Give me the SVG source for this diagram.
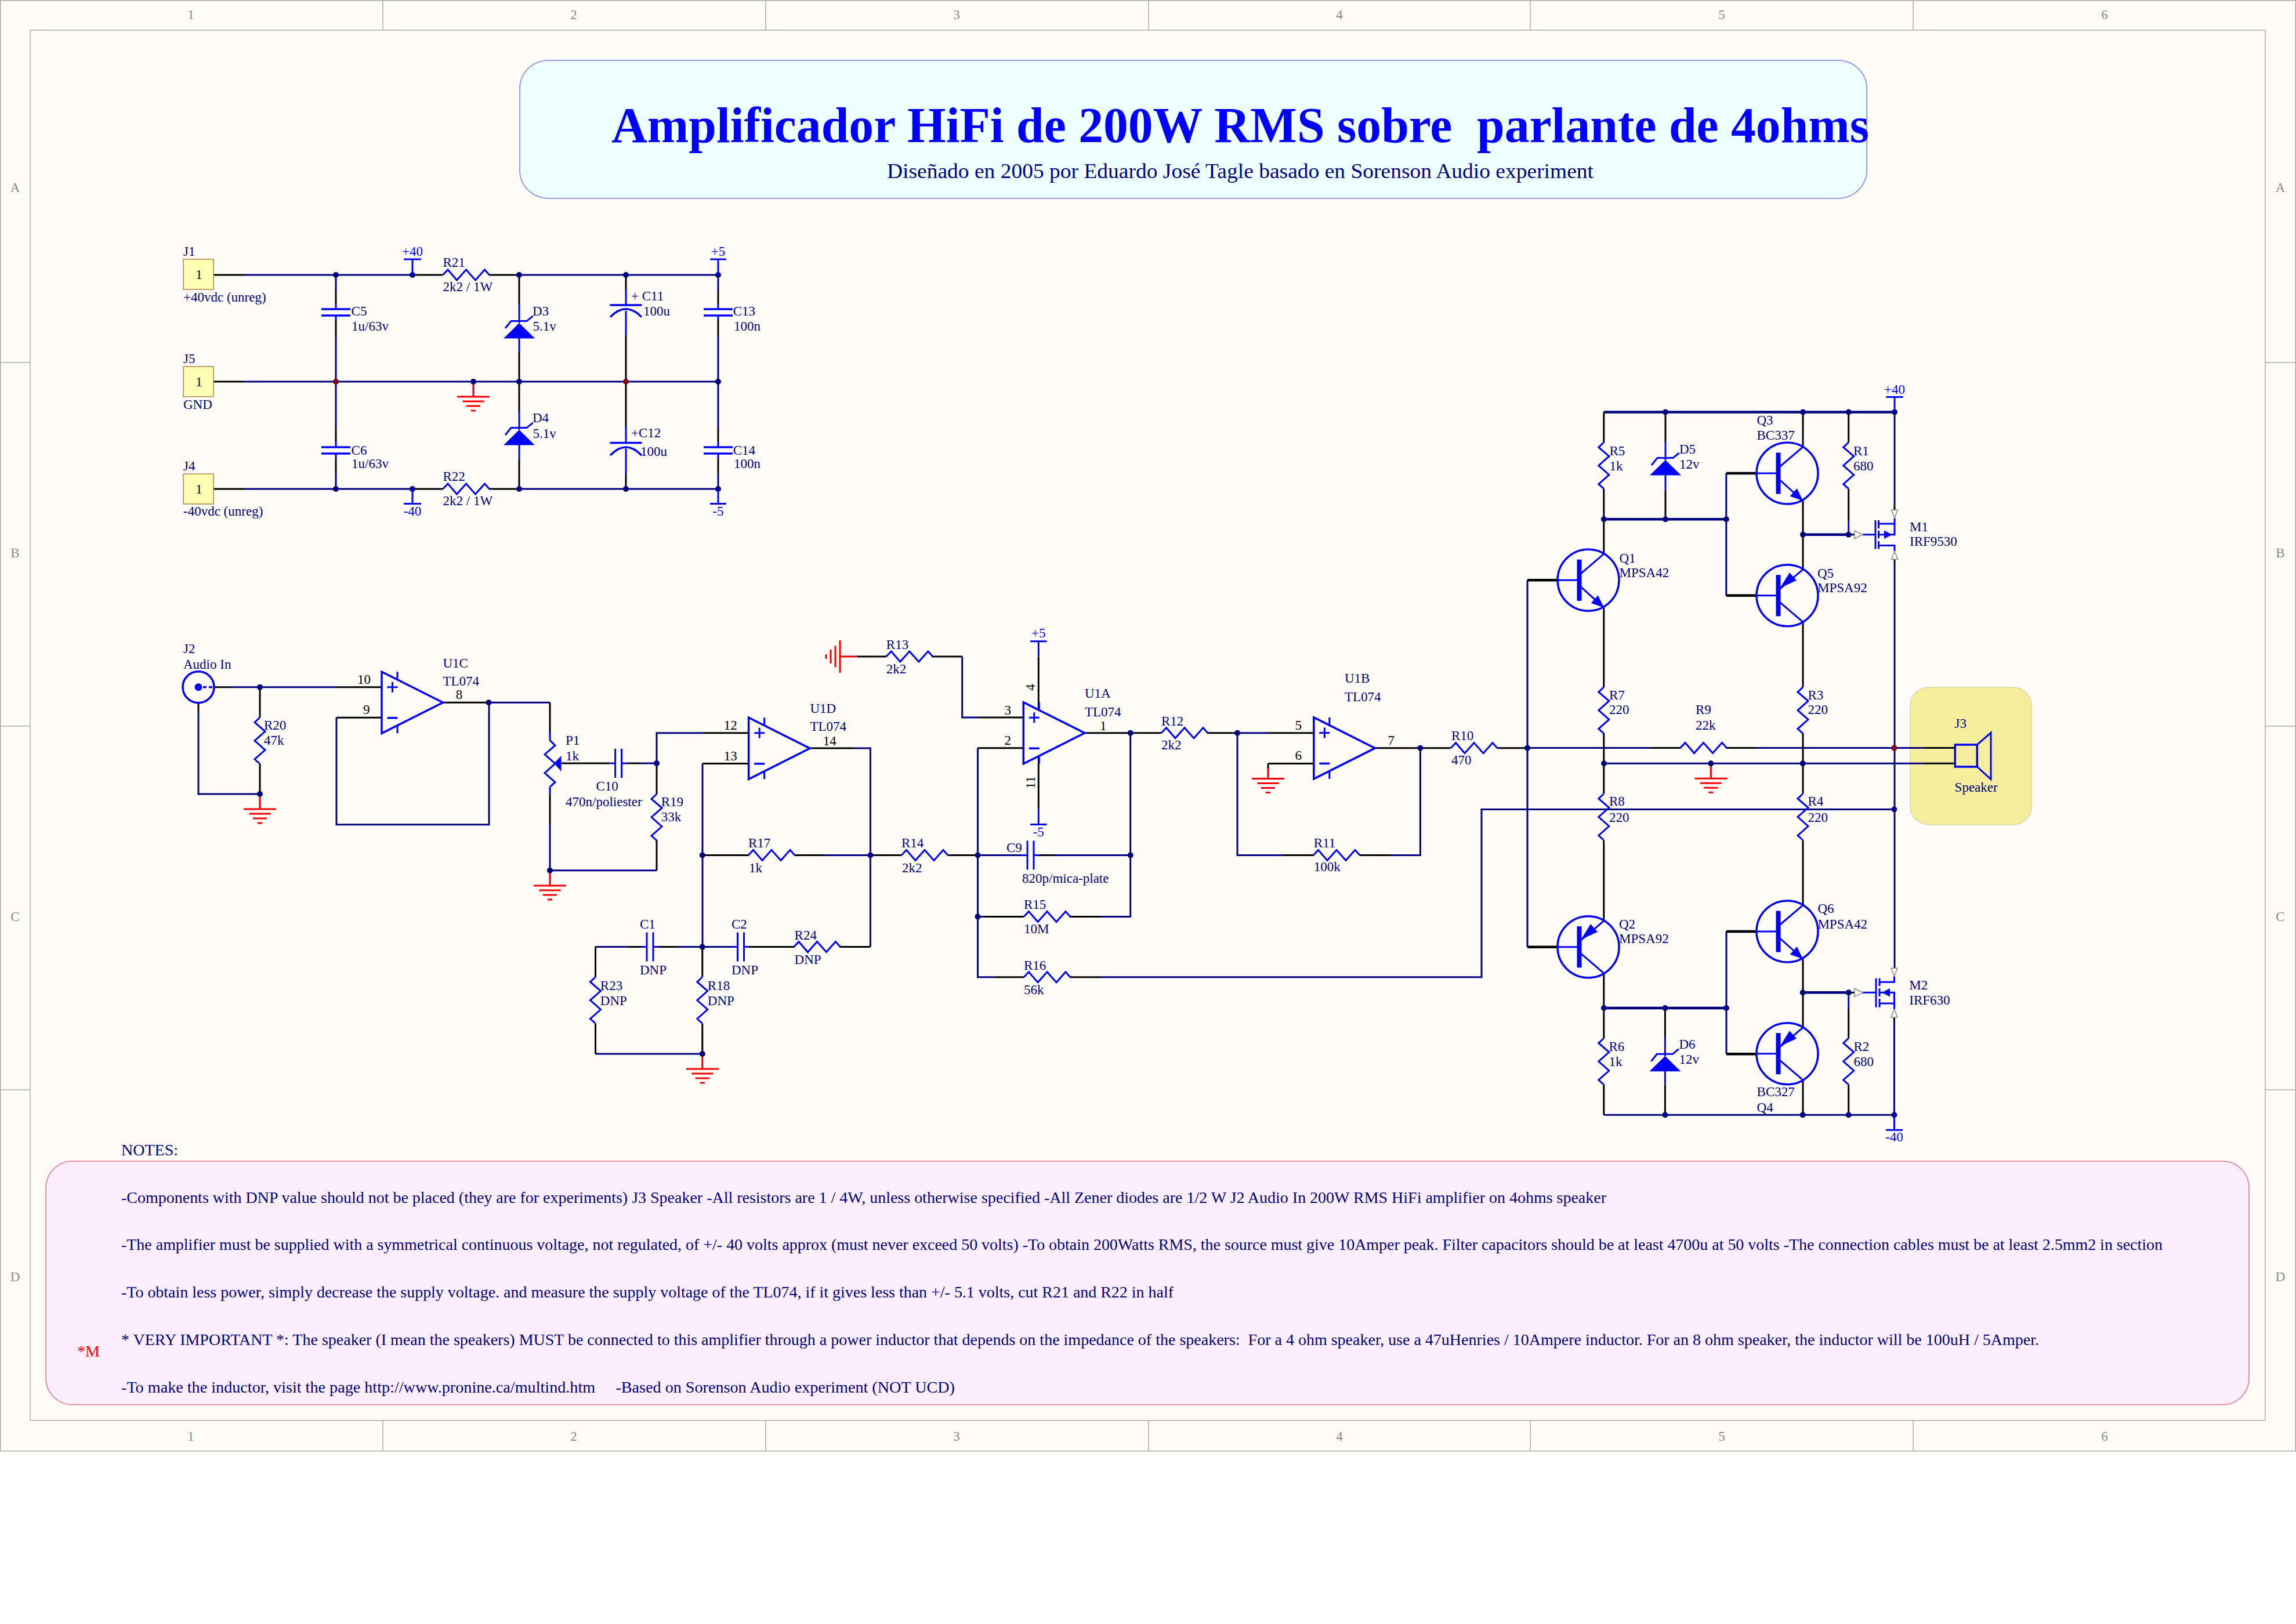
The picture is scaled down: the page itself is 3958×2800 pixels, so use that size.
<svg xmlns="http://www.w3.org/2000/svg" width="3958" height="2800" viewBox="0 0 3958 2800">
<style>
text{font-family:"Liberation Serif","Times New Roman",serif;font-size:23px;fill:#000080;white-space:pre}
.k{fill:#000}.pw{fill:#0000ff}.bd{fill:#888}.n{font-size:28px}
.w,.p,.c,.g,.f{fill:none;stroke-linecap:butt;stroke-linejoin:miter}
.w{stroke:#000080;stroke-width:3}.wt{stroke:#000080;stroke-width:4.5;fill:none}
.p{stroke:#000;stroke-width:3}.pt{stroke:#000;stroke-width:4.5;fill:none}
.c{stroke:#0000ff;stroke-width:3}.cb{stroke:#0000ff;stroke-width:3.5;fill:none}
.s{fill:#0000ff;stroke:none}
.g{stroke:#ff0000;stroke-width:3}.ge{stroke:#e00000;stroke-width:3;fill:none}
.j{fill:#000080}.jr{fill:#800020}
.h{fill:#fff;stroke:#888;stroke-width:1.5}
.br{stroke:#aaa;stroke-width:1.5;fill:none}
.conn{fill:#ffffb4;stroke:#b08050;stroke-width:1.5}
</style>
<defs>
<path id="rh" d="M0 0L8.5-9L24 9L40-9L56 9L72-9L80 0"/>
<path id="rv" d="M0 0L-9 8.5L9 24L-9 40L9 56L-9 72L0 80"/>
<path id="gnd" d="M-28 0H28M-18.5 8H18.5M-12 16H12M-4 24H4"/>
<path id="capv" d="M0-25V25M11-25V25"/>
<path id="caph" d="M-25 0H25M-25 11H25"/>
<g id="zen"><path class="s" d="M0 0L-27 26.5H27Z"/><path class="c" d="M-24 9L-14-3.4H13L23.5-12"/></g>
<g id="amp"><path class="cb" d="M0-53L105.5 0L0 53Z"/><path class="c" d="M27-53V-39M27 53V39M9.5-26.5H27.5M18.5-35.5V-17.5"/><path class="cb" d="M9.5 26.5H27.5"/></g>
<g id="npn"><circle r="53" class="cb"/><path class="s" d="M-19.5-35.6H-11.5V35.6H-19.5Z"/><path class="c" d="M-53 0H-15M-14.5-10L27-45.4M-14.5 10L27 47.5"/><path class="s" d="M27 47.5L4.7 39.5L16.7 26.1Z"/></g>
<g id="pnp"><circle r="53" class="cb"/><path class="s" d="M-19.5-35.6H-11.5V35.6H-19.5Z"/><path class="c" d="M-53 0H-15M-14.5-10L27-45M-14.5 10L27 45.5"/><path class="s" d="M-12.5-13L16-26L4-39.5Z"/></g>
</defs>
<rect width="3958" height="2800" fill="#fff"/>
<g id="frame">
<rect x="0.75" y="0.75" width="3956.5" height="2501" fill="#fffcf8" stroke="#aaa" stroke-width="1.5"/>
<rect x="52" y="52" width="3853" height="2397" class="br"/>
<path class="br" d="M660 0V52M1320 0V52M1980 0V52M2638 0V52M3298 0V52M660 2449V2502M1320 2449V2502M1980 2449V2502M2638 2449V2502M3298 2449V2502M0 625H52M0 1252H52M0 1879H52M3905 625H3958M3905 1252H3958M3905 1879H3958"/>
<g class="bl" text-anchor="middle">
<text class="bd" x="329" y="33">1</text><text class="bd" x="989" y="33">2</text><text class="bd" x="1649" y="33">3</text><text class="bd" x="2309" y="33">4</text><text class="bd" x="2968" y="33">5</text><text class="bd" x="3628" y="33">6</text>
<text class="bd" x="329" y="2484">1</text><text class="bd" x="989" y="2484">2</text><text class="bd" x="1649" y="2484">3</text><text class="bd" x="2309" y="2484">4</text><text class="bd" x="2968" y="2484">5</text><text class="bd" x="3628" y="2484">6</text>
<text class="bd" x="26" y="331">A</text><text class="bd" x="26" y="961">B</text><text class="bd" x="26" y="1588">C</text><text class="bd" x="26" y="2209">D</text>
<text class="bd" x="3931" y="331">A</text><text class="bd" x="3931" y="961">B</text><text class="bd" x="3931" y="1588">C</text><text class="bd" x="3931" y="2209">D</text>
</g>
</g>
<g id="title-block">
<rect x="896" y="104" width="2322" height="238" rx="50" ry="48" fill="#eeffff" stroke="#9999ee" stroke-width="2"/>
<text x="1054" y="245" font-size="86" font-weight="bold" style="font-size:86px;fill:#0000ff" textLength="2168" lengthAdjust="spacingAndGlyphs">Amplificador HiFi de 200W RMS sobre  parlante de 4ohms</text>
<text x="1529" y="307" style="font-size:36px" textLength="1218" lengthAdjust="spacingAndGlyphs">Diseñado en 2005 por Eduardo José Tagle basado en Sorenson Audio experiment</text>
</g>
<g id="notes">
<text class="n" x="209" y="1992">NOTES:</text>
<rect x="79" y="2002" width="3798" height="420" rx="46" ry="46" fill="#fceeff" stroke="#e87080" stroke-width="1.5"/>
<text class="n" x="209" y="2074" textLength="2560" lengthAdjust="spacingAndGlyphs">-Components with DNP value should not be placed (they are for experiments) J3 Speaker -All resistors are 1 / 4W, unless otherwise specified -All Zener diodes are 1/2 W J2 Audio In 200W RMS HiFi amplifier on 4ohms speaker</text>
<text class="n" x="209" y="2155" textLength="3519" lengthAdjust="spacingAndGlyphs">-The amplifier must be supplied with a symmetrical continuous voltage, not regulated, of +/- 40 volts approx (must never exceed 50 volts) -To obtain 200Watts RMS, the source must give 10Amper peak. Filter capacitors should be at least 4700u at 50 volts -The connection cables must be at least 2.5mm2 in section</text>
<text class="n" x="209" y="2237" textLength="1814" lengthAdjust="spacingAndGlyphs">-To obtain less power, simply decrease the supply voltage. and measure the supply voltage of the TL074, if it gives less than +/- 5.1 volts, cut R21 and R22 in half</text>
<text class="n" x="209" y="2319" textLength="3306" lengthAdjust="spacingAndGlyphs">* VERY IMPORTANT *: The speaker (I mean the speakers) MUST be connected to this amplifier through a power inductor that depends on the impedance of the speakers:  For a 4 ohm speaker, use a 47uHenries / 10Ampere inductor. For an 8 ohm speaker, the inductor will be 100uH / 5Amper.</text>
<text class="n" x="209" y="2401" textLength="1437" lengthAdjust="spacingAndGlyphs">-To make the inductor, visit the page http://www.pronine.ca/multind.htm     -Based on Sorenson Audio experiment (NOT UCD)</text>
<text x="133" y="2339" style="font-size:28px;fill:#ff0000">*M</text>
</g>
<rect id="J3-panel" x="3293" y="1185" width="209" height="237" rx="32" fill="#f5ee9c" stroke="#d8d8a0" stroke-width="1.5"/>
<g id="connectors">
<path class="w" d="M422 474H711M895 474H1238M420 658H1238M422 843H711M895 843H1238
M579 474V501M579 580V738M579 817V843M1238 474V501M1238 580V738M1238 817V843
M342 1226V1369H448M397 1184.7H580M580 1237.3V1421.7H843V1211.3M842.5 1211.3H948
M1106 1316H1132M1132 1316V1263.8H1214M948 1420V1500.7H1132
M1211 1316.5V1632.6M1473 1290H1500.4V1632.6M1422 1474.5H1500.4
M1685.5 1289.7V1684.8H1713.8M1685.5 1474.5H1760M1818 1474.5H1948.7M1685.5 1580.4H1698M1897 1580.4H1948.7V1263.8
M1897 1684.8H2554V1395.5H3265.4
M1026.5 1632.6H1080.7M1170 1632.6H1262M1026.5 1684V1632.6M1026.5 1817H1210.8
M1658.7 1132V1237H1687M2133 1263.8V1474.5H2211M2133 1263.8H2188M2397 1474.5H2448.4V1289.7
M2633 1000.3V1632.7M2633 1289.6H2845M3027 1289.6H3316.8M2765 1316.3H3316.8
M3266 710.5V871.4M3266 970V1669M3265.4 1760V1922.3H2764.8"/>
<path class="wt" d="M2764.8 710.5H3266M2764.8 895.2H2975.8M3108 921.7H3186.7M2764.8 1738H2976M3107.7 1711.3H3186.7"/>
<path class="w" d="M2975.8 816V1026.8M2976 1606V1817.3"/>
<path class="p" d="M368 474H422M711 474H763.5M843 474H895M368 658H420M368 843H422M711 843H763.5M843 843H895
M579 501V524M579 552V580M579 738V762M579 790V817M1238 501V524M1238 552V580M1238 738V762M1238 790V817
M895 474V524M895 606V710M895 792V843M1079 474V499M1079 578V736M1079 818V843
M369 1184.7H397M580 1184.7H658M342 1211.7V1226M448 1185V1237M448 1317V1369M580 1237.3H658M763.4 1211.3H842.5
M948 1211.3V1263M948 1370V1420M967.5 1316H1051.7M1080 1316H1106M1132 1316V1369M1132 1448V1500.7
M1214 1263.8H1290.6M1211 1316.5H1290.6M1396.4 1290H1473M1211 1474.5H1291M1369.6 1474.5H1422
M1500.4 1474.5H1554M1633.7 1474.5H1685.5M1792 1474.5H1818
M1080.7 1632.6H1106M1133 1632.6H1170M1291 1632.6H1369.6M1447.5 1632.6H1500.4
M1026.5 1684.4V1632.6M1026.5 1764.7V1817M1210.8 1632.6V1684.4M1210.8 1764.7V1817
M1606.6 1132H1658.7M1476.5 1132H1527.8M1687 1237H1764.3M1685.5 1289.7H1764.3
M1790.3 1132.6V1224M1790.3 1304V1393.8M1870 1263.8H2002.3M2081 1263.8H2133M2188 1263.8H2264.8M2186 1316.5H2264.8M2186 1316.5V1325
M2370.4 1289.7H2500.5M2581 1289.7H2633
M1698 1580.4H1765M1844 1580.4H1897M1713.8 1684.8H1765M1844 1684.8H1897M2211 1474.5H2264.8M2343.6 1474.5H2397
M2845 1289.6H2897M2975.7 1289.6H3027M3316.8 1289.6H3370.3M3316.8 1316.3H3370.3
M2764.8 710.5V762.7M2764.8 843V954.5M2871 710.5V762.7M2871 844.5V895.2
M3108 710.5V770.6M3108 863.5V982M3108 1072V1184.6M3108 1264V1368M3108 1448.8V1560.6M3108 1653.5V1771.7M3108 1862V1922.3
M2764.8 1048V1184.6M2764.8 1264V1368M2764.8 1448.8V1587.7M2764.8 1678V1790M2764.8 1870V1922.3
M3186.7 710.5V762.7M3186.7 843V899M3186.7 1740V1790M3186.7 1870V1922.3M2870.4 1738V1788M2870.4 1870.7V1922.3
M3186.7 921.7H3197M3186.7 1711.3H3197M3266 871.4V879.3M3266 964.3V970M3265.4 1754V1760"/>
<path class="pt" d="M2975.8 816H3028M2975.8 1026.8H3028M2633 1000.3H2686M2633 1632.7H2686M2976 1606H3028M2976 1817.3H3028"/>
<path class="c" d="M3186.7 899V921.7M3186.7 1711.3V1740"/>
<path class="ge" d="M816 658V684M448 1369V1395M948 1500.7V1527M1210.8 1817V1843M2186 1325V1342.4M2949.3 1316.3V1342.2M1448 1132H1476.5"/>
<g class="j">
<circle cx="579" cy="474" r="5"/><circle cx="711" cy="474" r="5"/><circle cx="895" cy="474" r="5"/><circle cx="1079" cy="474" r="5"/><circle cx="1238" cy="474" r="5"/>
<circle cx="816" cy="658" r="5"/><circle cx="895" cy="658" r="5"/><circle cx="1238" cy="658" r="5"/>
<circle cx="579" cy="843" r="5"/><circle cx="711" cy="843" r="5"/><circle cx="895" cy="843" r="5"/><circle cx="1079" cy="843" r="5"/><circle cx="1238" cy="843" r="5"/>
<circle cx="448" cy="1184.7" r="5"/><circle cx="448" cy="1369" r="5"/><circle cx="842.5" cy="1211.3" r="5"/><circle cx="1132" cy="1316" r="5"/><circle cx="948" cy="1500.7" r="5"/>
<circle cx="1210.8" cy="1474.5" r="5"/><circle cx="1500.4" cy="1474.5" r="5"/><circle cx="1210.8" cy="1632.6" r="5"/><circle cx="1210.8" cy="1817" r="5"/>
<circle cx="1685.5" cy="1474.5" r="5"/><circle cx="1948.7" cy="1474.5" r="5"/><circle cx="1685.5" cy="1580.4" r="5"/><circle cx="1948.7" cy="1263.8" r="5"/><circle cx="2133" cy="1263.8" r="5"/><circle cx="2448.4" cy="1289.7" r="5"/><circle cx="2633" cy="1289.6" r="5"/>
<circle cx="2765" cy="1316.3" r="5"/><circle cx="2949.3" cy="1316.3" r="5"/><circle cx="3107.7" cy="1316.3" r="5"/><circle cx="3265.4" cy="1395.5" r="5"/>
<circle cx="2871" cy="710.5" r="5"/><circle cx="3108" cy="710.5" r="5"/><circle cx="3186.7" cy="710.5" r="5"/><circle cx="3266" cy="710.5" r="5"/>
<circle cx="2764.8" cy="895.2" r="5"/><circle cx="2871" cy="895.2" r="5"/><circle cx="2975.8" cy="895.2" r="5"/><circle cx="3108" cy="921.7" r="5"/><circle cx="3186.7" cy="921.7" r="5"/>
<circle cx="2764.8" cy="1738" r="5"/><circle cx="2870.4" cy="1738" r="5"/><circle cx="2976" cy="1738" r="5"/><circle cx="3107.7" cy="1711.3" r="5"/><circle cx="3186.7" cy="1711.3" r="5"/>
<circle cx="2870.4" cy="1922.3" r="5"/><circle cx="3107.7" cy="1922.3" r="5"/><circle cx="3186.7" cy="1922.3" r="5"/><circle cx="3265.4" cy="1922.3" r="5"/>
</g>
<g class="jr"><circle cx="579" cy="658" r="5"/><circle cx="1079" cy="658" r="5"/><circle cx="3265.4" cy="1289.6" r="5"/></g>
</g>
<g id="J1"><rect class="conn" x="316" y="447" width="52" height="52"/><text class="k" x="343" y="481" text-anchor="middle">1</text><text x="316" y="441">J1</text><text x="316" y="520">+40vdc (unreg)</text></g>
<g id="J5"><rect class="conn" x="316" y="632" width="52" height="52"/><text class="k" x="343" y="666" text-anchor="middle">1</text><text x="316" y="625.5">J5</text><text x="316" y="704.5">GND</text></g>
<g id="J4"><rect class="conn" x="316" y="817" width="52" height="52"/><text class="k" x="343" y="851" text-anchor="middle">1</text><text x="316" y="810.7">J4</text><text x="316" y="888.6">-40vdc (unreg)</text></g>
<g id="P-plus40"><path class="c" d="M711 474V447M696 447H726"/><text class="pw" x="711" y="441" text-anchor="middle">+40</text></g>
<g id="P-plus5"><path class="c" d="M1238 474V447M1224 447H1252"/><text class="pw" x="1238" y="441" text-anchor="middle">+5</text></g>
<g id="P-minus40"><path class="c" d="M711 843V868.6M696 868.6H726"/><text class="pw" x="711" y="889" text-anchor="middle">-40</text></g>
<g id="P-minus5"><path class="c" d="M1238 843V868.6M1224 868.6H1252"/><text class="pw" x="1238" y="889" text-anchor="middle">-5</text></g>
<g id="R21"><use href="#rh" class="c" x="763.5" y="474"/><text x="763.5" y="460">R21</text><text x="763.5" y="502">2k2 / 1W</text></g>
<g id="R22"><use href="#rh" class="c" x="763.5" y="843"/><text x="763.5" y="829">R22</text><text x="763.5" y="871">2k2 / 1W</text></g>
<g id="C5"><use href="#caph" class="cb" x="579" y="533"/><path class="c" d="M579 524V533M579 544V552"/><text x="605.6" y="544">C5</text><text x="606" y="570">1u/63v</text></g>
<g id="C6"><use href="#caph" class="cb" x="579" y="771"/><path class="c" d="M579 762V771M579 782V790"/><text x="605.6" y="784">C6</text><text x="606" y="807">1u/63v</text></g>
<g id="C13"><use href="#caph" class="cb" x="1238" y="533"/><path class="c" d="M1238 524V533M1238 544V552"/><text x="1263.7" y="544">C13</text><text x="1265" y="570">100n</text></g>
<g id="C14"><use href="#caph" class="cb" x="1238" y="771"/><path class="c" d="M1238 762V771M1238 782V790"/><text x="1263.7" y="784">C14</text><text x="1265" y="807">100n</text></g>
<g id="C11"><path class="cb" d="M1051.5 526H1106.5M1052 546.6Q1079 519 1106 546.6"/><path class="c" d="M1079 499V526M1079 536V578"/><text x="1088" y="517.5">+ C11</text><text x="1109" y="544">100u</text></g>
<g id="C12"><path class="cb" d="M1051.5 763.4H1106.5M1052 785Q1079 757 1106 785"/><path class="c" d="M1079 736V763.4M1079 773.5V818.5"/><text x="1088" y="754">+C12</text><text x="1104" y="786">100u</text></g>
<g id="D3"><use href="#zen" x="895" y="557"/><path class="c" d="M895 524V557M895 583V606"/><text x="918" y="544">D3</text><text x="918.5" y="570">5.1v</text></g>
<g id="D4"><use href="#zen" x="895" y="741"/><path class="c" d="M895 710V741M895 767V792"/><text x="918" y="728">D4</text><text x="918.5" y="754.6">5.1v</text></g>
<g id="GND-1"><use href="#gnd" class="g" x="816" y="684"/></g>
<g id="J2"><circle cx="342" cy="1184.7" r="27" class="cb"/><circle cx="342" cy="1184.7" r="6.5" class="s"/><path class="cb" stroke-dasharray="6 4" d="M350 1184.7H369"/><text x="316" y="1125.7">J2</text><text x="316" y="1152.7">Audio In</text></g>
<g id="R20"><use href="#rv" class="c" x="448" y="1237"/><text x="455" y="1258">R20</text><text x="455" y="1284">47k</text></g>
<g id="GND-2"><use href="#gnd" class="g" x="448" y="1395"/></g>
<g id="U1C"><use href="#amp" x="658" y="1211.3"/><text class="k" x="616" y="1179">10</text><text class="k" x="626" y="1230.7">9</text><text class="k" x="785.7" y="1205">8</text><text x="763.4" y="1150.7">U1C</text><text x="763.4" y="1181.7">TL074</text></g>
<g id="P1"><path class="c" d="M948 1263V1276.7M948 1356.7V1370"/><use href="#rv" class="c" transform="translate(948 1276.7) scale(-1 1)"/><path class="s" d="M955 1316L967.5 1303V1330Z"/><text x="975" y="1284">P1</text><text x="975" y="1311">1k</text></g>
<g id="C10"><use href="#capv" class="c" x="1060.6" y="1316"/><path class="c" d="M1051.7 1316H1060.6M1071.6 1316H1080"/><text x="1027.5" y="1363">C10</text><text x="975" y="1390">470n/poliester</text></g>
<g id="R19"><use href="#rv" class="c" x="1132" y="1369"/><text x="1139.7" y="1390">R19</text><text x="1139.7" y="1416">33k</text></g>
<g id="GND-3"><use href="#gnd" class="g" x="948" y="1527"/></g>
<g id="U1D"><use href="#amp" x="1290.6" y="1290.3"/><text class="k" x="1247.8" y="1258">12</text><text class="k" x="1247.8" y="1310.7">13</text><text class="k" x="1418.7" y="1284.8">14</text><text x="1396.4" y="1229">U1D</text><text x="1396.4" y="1260.3">TL074</text></g>
<g id="R17"><use href="#rh" class="c" x="1290" y="1474.5"/><text x="1290" y="1461">R17</text><text x="1291" y="1503.6">1k</text></g>
<g id="R14"><use href="#rh" class="c" x="1554" y="1474.5"/><text x="1554" y="1461">R14</text><text x="1555" y="1503.6">2k2</text></g>
<g id="C9"><use href="#capv" class="c" x="1771" y="1474.5"/><path class="c" d="M1760 1474.5H1771M1782 1474.5H1792"/><text x="1735" y="1469">C9</text><text x="1762" y="1522">820p/mica-plate</text></g>
<g id="R15"><use href="#rh" class="c" x="1765" y="1580.4"/><text x="1765" y="1566.5">R15</text><text x="1765" y="1609">10M</text></g>
<g id="R16"><use href="#rh" class="c" x="1765" y="1684.8"/><text x="1765" y="1672">R16</text><text x="1765" y="1714">56k</text></g>
<g id="C1"><use href="#capv" class="c" x="1115" y="1632.6"/><path class="c" d="M1106 1632.6H1115M1126 1632.6H1133"/><text x="1103" y="1601">C1</text><text x="1103" y="1680">DNP</text></g>
<g id="C2"><use href="#capv" class="c" x="1271.5" y="1632.6"/><path class="c" d="M1262 1632.6H1271.5M1282.5 1632.6H1291"/><text x="1261" y="1601">C2</text><text x="1261" y="1680">DNP</text></g>
<g id="R24"><use href="#rh" class="c" x="1368.5" y="1632.6"/><text x="1369.6" y="1619.6">R24</text><text x="1369.6" y="1662">DNP</text></g>
<g id="R23"><use href="#rv" class="c" x="1026.5" y="1684.5"/><text x="1034.8" y="1706.7">R23</text><text x="1034.8" y="1732.6">DNP</text></g>
<g id="R18"><use href="#rv" class="c" x="1210.8" y="1684.5"/><text x="1219.8" y="1706.7">R18</text><text x="1219.8" y="1732.6">DNP</text></g>
<g id="GND-4"><use href="#gnd" class="g" x="1210.8" y="1843"/></g>
<g id="GND-5"><use href="#gnd" class="g" transform="translate(1448 1132) rotate(90)"/></g>
<g id="R13"><use href="#rh" class="c" x="1527.8" y="1132"/><text x="1527.8" y="1119">R13</text><text x="1527.8" y="1160.7">2k2</text></g>
<g id="P-plus5b"><path class="c" d="M1790.3 1132.6V1105.8M1776 1105.8H1804.6"/><text class="pw" x="1790.3" y="1099" text-anchor="middle">+5</text></g>
<g id="P-minus5b"><path class="c" d="M1790.3 1393.8V1421.4M1776 1421.4H1804.6"/><text class="pw" x="1790.3" y="1442" text-anchor="middle">-5</text></g>
<g id="U1A"><use href="#amp" x="1764.3" y="1263.8"/><text class="k" x="1731.4" y="1232">3</text><text class="k" x="1731.4" y="1284.4">2</text><text class="k" x="1896" y="1258.5">1</text><text class="k" transform="translate(1784 1185) rotate(-90)" text-anchor="middle">4</text><text class="k" transform="translate(1784 1349) rotate(-90)" text-anchor="middle">11</text><text x="1870" y="1203">U1A</text><text x="1870" y="1235">TL074</text></g>
<g id="R12"><use href="#rh" class="c" x="2002" y="1263.8"/><text x="2002" y="1251">R12</text><text x="2002" y="1292.4">2k2</text></g>
<g id="U1B"><use href="#amp" x="2264.8" y="1289.9"/><text class="k" x="2232.6" y="1257.6">5</text><text class="k" x="2232.6" y="1310">6</text><text class="k" x="2392.6" y="1283.5">7</text><text x="2318" y="1177">U1B</text><text x="2318" y="1208.5">TL074</text></g>
<g id="GND-6"><use href="#gnd" class="g" x="2186" y="1342.4"/></g>
<g id="R11"><use href="#rh" class="c" x="2264" y="1474.5"/><text x="2264.8" y="1460.7">R11</text><text x="2264.8" y="1502">100k</text></g>
<g id="R10"><use href="#rh" class="c" x="2501" y="1289.7"/><text x="2502" y="1276">R10</text><text x="2502" y="1318">470</text></g>
<g id="R9"><use href="#rh" class="c" x="2896.5" y="1289.6"/><text x="2923" y="1231.4">R9</text><text x="2923" y="1257.7">22k</text></g>
<g id="GND-7"><use href="#gnd" class="g" x="2949.3" y="1342.2"/></g>
<g id="J3"><rect x="3370.3" y="1284" width="38" height="38" class="cb"/><path class="c" d="M3408.3 1284L3432 1263.3V1343.6L3408.3 1322"/><text x="3369.6" y="1254.5">J3</text><text x="3369.6" y="1364.7">Speaker</text></g>
<g id="P-plus40b"><path class="c" d="M3266 710.5V684.4M3251.5 684.4H3280.5"/><text class="pw" x="3266" y="678.5" text-anchor="middle">+40</text></g>
<g id="P-minus40b"><path class="c" d="M3265.4 1922.3V1948.3M3251 1948.3H3280"/><text class="pw" x="3265.4" y="1968" text-anchor="middle">-40</text></g>
<g id="R5"><use href="#rv" class="c" x="2764.8" y="762.7"/><text x="2774.5" y="785">R5</text><text x="2774.5" y="811">1k</text></g>
<g id="D5"><use href="#zen" x="2871" y="793"/><path class="c" d="M2871 762.7V793M2871 819.5V844.5"/><text x="2895" y="781.7">D5</text><text x="2895" y="808">12v</text></g>
<g id="Q3"><use href="#npn" x="3081" y="816"/><text x="3028.5" y="732">Q3</text><text x="3028.5" y="757.5">BC337</text></g>
<g id="Q5"><use href="#pnp" x="3081" y="1026.8"/><text x="3133" y="996">Q5</text><text x="3133" y="1020.5">MPSA92</text></g>
<g id="Q1"><use href="#npn" x="2738" y="1000.3"/><text x="2791.5" y="969.5">Q1</text><text x="2791.5" y="995">MPSA42</text></g>
<g id="R1"><use href="#rv" class="c" x="3186.7" y="762.7"/><text x="3195" y="785">R1</text><text x="3195" y="811">680</text></g>
<g id="M1"><path class="c" d="M3211 921.7H3233M3233 897V946.5M3238.5 897V911M3238.5 915V928M3238.5 933V946.5M3238.5 903H3266V921.7H3238.5M3238.5 940.6H3266V950.5M3266 893V903"/><path class="s" d="M3262 921.7L3248 914.5V929Z"/><path class="h" d="M3197 915V928.7L3211 921.7Z"/><path class="h" d="M3260.5 879.3H3271.5L3266 893Z"/><path class="h" d="M3260.5 964.3H3271.5L3266 950.5Z"/><text x="3292" y="915.7">M1</text><text x="3292" y="941.4">IRF9530</text></g>
<g id="R7"><use href="#rv" class="c" x="2764.8" y="1184.6"/><text x="2774" y="1205.6">R7</text><text x="2774" y="1231">220</text></g>
<g id="R3"><use href="#rv" class="c" x="3108" y="1184.6"/><text x="3116.4" y="1205.6">R3</text><text x="3116.4" y="1231">220</text></g>
<g id="R8"><use href="#rv" class="c" x="2764.8" y="1368.5"/><text x="2774" y="1389">R8</text><text x="2774" y="1416.6">220</text></g>
<g id="R4"><use href="#rv" class="c" x="3108" y="1368.5"/><text x="3116.5" y="1389">R4</text><text x="3116.5" y="1416.6">220</text></g>
<g id="Q2"><use href="#pnp" x="2738" y="1632.7"/><text x="2791" y="1600.7">Q2</text><text x="2791" y="1626.3">MPSA92</text></g>
<g id="Q6"><use href="#npn" x="3081" y="1606"/><text x="3133.4" y="1574.4">Q6</text><text x="3133.4" y="1600.7">MPSA42</text></g>
<g id="Q4"><use href="#pnp" x="3081" y="1816.7"/><text x="3028.6" y="1890">BC327</text><text x="3028.6" y="1916.7">Q4</text></g>
<g id="R6"><use href="#rv" class="c" x="2764.8" y="1790"/><text x="2773.5" y="1811.7">R6</text><text x="2773.5" y="1837.7">1k</text></g>
<g id="D6"><use href="#zen" x="2870.4" y="1820.7"/><path class="c" d="M2870.4 1788V1820.7M2870.4 1847V1870.7"/><text x="2894.4" y="1808.3">D6</text><text x="2894.4" y="1834.3">12v</text></g>
<g id="R2"><use href="#rv" class="c" x="3186.7" y="1790"/><text x="3195.4" y="1811.7">R2</text><text x="3195.4" y="1837.7">680</text></g>
<g id="M2"><path class="c" d="M3211 1711.3H3234M3234 1686.7V1736.7M3240 1686.7V1700M3240 1704V1718M3240 1722V1736.7M3240 1693.3H3265.4V1683.3M3240 1711.3H3265.4V1730H3240M3265.4 1730V1740"/><path class="s" d="M3244 1711.3L3258 1704V1718.5Z"/><path class="h" d="M3197 1704.3V1718.3L3211 1711.3Z"/><path class="h" d="M3260 1669.3H3271L3265.4 1683.3Z"/><path class="h" d="M3260 1754H3271L3265.4 1740Z"/><text x="3291.3" y="1705.7">M2</text><text x="3291.3" y="1732.3">IRF630</text></g>
</svg>
